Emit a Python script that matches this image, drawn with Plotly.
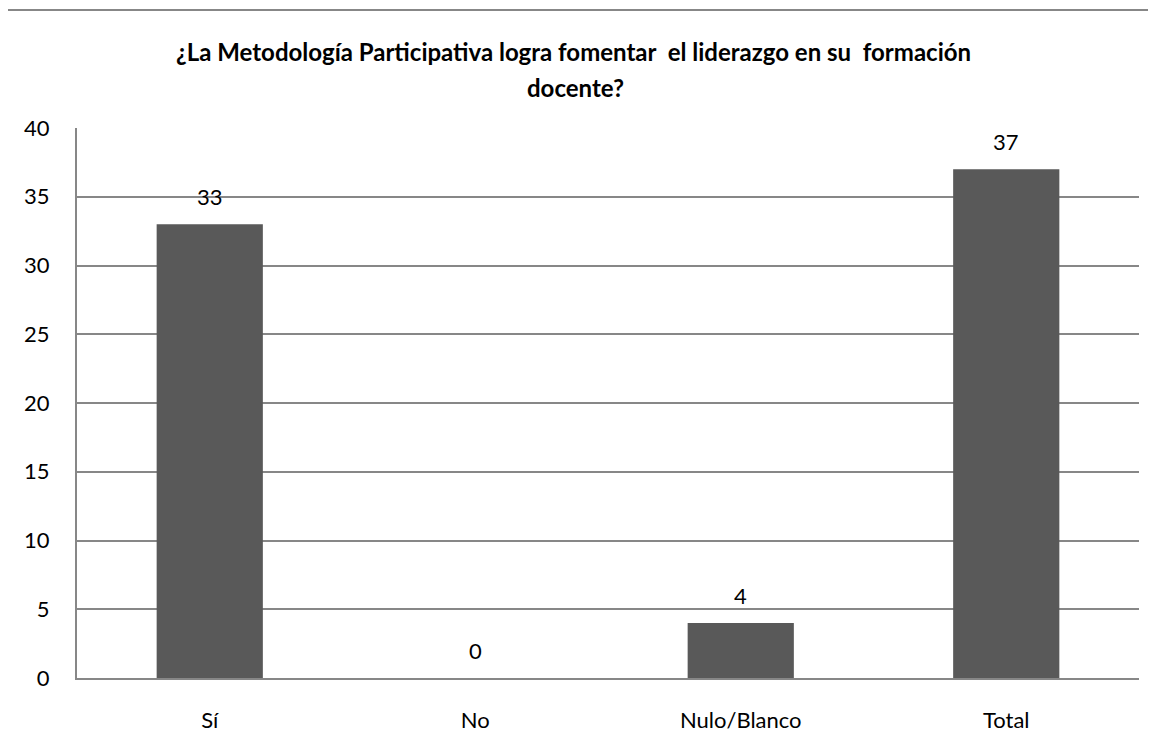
import plotly.graph_objects as go

categories = ["Sí", "No", "Nulo/Blanco", "Total"]
values = [33, 0, 4, 37]
y_ticks = [0, 5, 10, 15, 20, 25, 30, 35, 40]
title_lines = ["¿La Metodología Participativa logra fomentar  el liderazgo en su  formación", "docente?"]

FONT = "Lato"
O = 8  # page body margin
W, H = 1156 - O, 739 - O
L, T = 77 - O, 128 - O
pw, ph = 1062, 550
R = W - L - pw
B = H - T - ph

def px_x(p):
    return (p - O - L) / pw

def px_y(p):
    return (T + ph - (p - O)) / ph

fig = go.Figure()
fig.add_trace(go.Bar(
    x=categories, y=values,
    marker=dict(color="#595959", line=dict(width=0)),
    width=0.4,
    hoverinfo="x+y",
))

annotations = []
for c, v in zip(categories, values):
    annotations.append(dict(
        x=c, y=v, xref="x", yref="y", text=str(v), showarrow=False,
        yanchor="bottom", yshift=12, font=dict(family=FONT, size=22, color="#000000"),
    ))
for i, (yy, xx) in enumerate([(51, 573), (88, 575)]):
    annotations.append(dict(
        x=px_x(xx), y=px_y(yy), xref="paper", yref="paper",
        text="<b>" + title_lines[i] + "</b>", showarrow=False,
        xanchor="center", yanchor="middle", font=dict(family=FONT, size=24, color="#000000"),
    ))

border = dict(color="#878787", width=2)
fig.update_layout(
    width=W, height=H,
    margin=dict(l=L, r=R, t=T, b=B, autoexpand=False),
    paper_bgcolor="white", plot_bgcolor="white",
    showlegend=False,
    bargap=0.6,
    annotations=annotations,
    shapes=[
        dict(type="line", xref="paper", yref="paper",
             x0=px_x(7), x1=px_x(7), y0=px_y(745), y1=px_y(10), line=border, layer="above"),
        dict(type="line", xref="paper", yref="paper",
             x0=px_x(7), x1=px_x(1165), y0=px_y(10), y1=px_y(10), line=border, layer="above"),
    ],
    font=dict(family=FONT, size=22, color="#000000"),
)
fig.update_xaxes(
    showgrid=False, showline=True, linecolor="#878787", linewidth=2,
    ticks="", ticklabelstandoff=22, tickfont=dict(family=FONT, size=22, color="#000000"),
    zeroline=False, automargin=False,
)
fig.update_yaxes(
    range=[0, 40], tickvals=y_ticks, showgrid=True, gridcolor="#878787", gridwidth=2,
    showline=True, linecolor="#878787", linewidth=2, ticks="",
    ticklabelstandoff=21, tickfont=dict(family=FONT, size=22, color="#000000"),
    zeroline=False, automargin=False,
)

fig.write_html("out.html")
